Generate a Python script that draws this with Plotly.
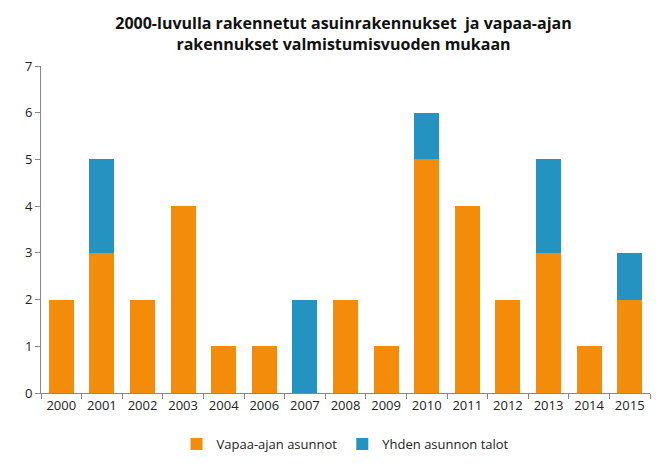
import plotly.graph_objects as go

years = ["2000", "2001", "2002", "2003", "2004", "2006", "2007", "2008",
         "2009", "2010", "2011", "2012", "2013", "2014", "2015"]
vapaa_ajan = [2, 3, 2, 4, 1, 1, 0, 2, 1, 5, 4, 2, 3, 1, 2]
yhden_asunnon = [0, 2, 0, 0, 0, 0, 2, 0, 0, 1, 0, 0, 2, 0, 1]

fig = go.Figure()
fig.add_trace(go.Bar(x=years, y=vapaa_ajan, name="Vapaa-ajan asunnot",
                     marker=dict(color="#F28C0A", line=dict(width=0))))
fig.add_trace(go.Bar(x=years, y=yhden_asunnon, name="Yhden asunnon talot",
                     marker=dict(color="#2593C2", line=dict(width=0))))

fig.update_layout(
    barmode="stack",
    bargap=0.38,
    width=671, height=475,
    margin=dict(l=33, r=29, t=58, b=90),
    paper_bgcolor="white", plot_bgcolor="white",
    font=dict(family="Open Sans, Liberation Sans, sans-serif", size=13, color="#222"),
    title=dict(text="<b>2000-luvulla rakennetut asuinrakennukset  ja vapaa-ajan<br>rakennukset valmistumisvuoden mukaan</b>",
               x=0.5, xanchor="center", y=0.955, font=dict(size=16, color="#111")),
    legend=dict(orientation="h", x=0.5, xanchor="center", y=-0.11, yanchor="top",
                traceorder="normal", font=dict(size=13)),
)
fig.update_xaxes(showline=True, linecolor="#888", ticks="outside", tickcolor="#888",
                 ticklen=5, tickson="boundaries")
fig.update_yaxes(range=[0, 7], dtick=1, showgrid=False, showline=True, linecolor="#888",
                 ticks="outside", tickcolor="#888", ticklen=5, zeroline=False)

fig.write_html("out.html")
